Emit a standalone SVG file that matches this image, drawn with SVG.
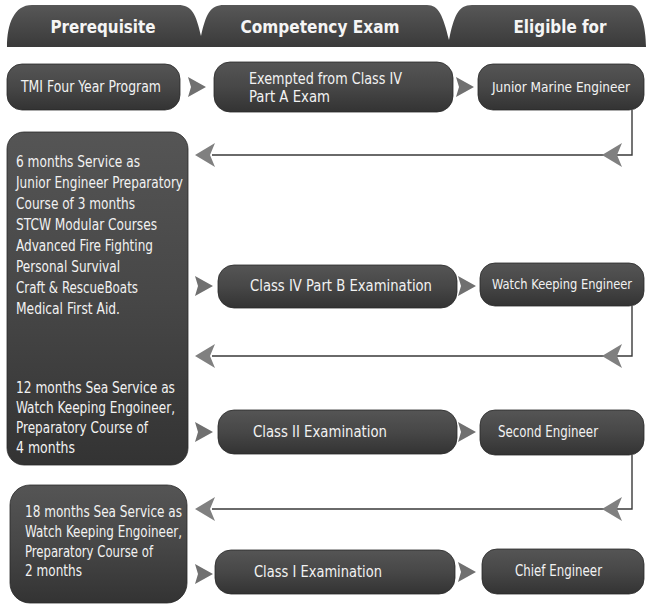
<svg xmlns="http://www.w3.org/2000/svg" width="646" height="614" viewBox="0 0 646 614">
<style>
.box{fill:url(#g);stroke:#2a2a2a;stroke-width:0.8}
.hd{fill:url(#gh)}
.t{font-family:'DejaVu Sans Condensed','DejaVu Sans',sans-serif;font-stretch:condensed;font-size:15px;fill:#f2f2f2}
.s{font-size:13.5px}
.h{font-family:'DejaVu Sans Condensed','DejaVu Sans',sans-serif;font-stretch:condensed;font-weight:bold;font-size:18px;fill:#f5f5f5}
.c{fill:none;stroke:#3a3a3a;stroke-width:1.4}
.ah{fill:#808080}
.sa{fill:#707070}
</style>
<defs>
<linearGradient id="g" x1="0" y1="0" x2="0" y2="1">
<stop offset="0" stop-color="#555"/>
<stop offset="0.5" stop-color="#474747"/>
<stop offset="1" stop-color="#333"/>
</linearGradient>
<linearGradient id="gh" x1="0" y1="0" x2="0" y2="1">
<stop offset="0" stop-color="#575757"/>
<stop offset="1" stop-color="#3a3a3a"/>
</linearGradient>
<path id="la" d="M0,0 L20,-12 L15,0 L20,12 Z"/>
<path id="ra" d="M0,-10 L18,0 L0,10 L3,0 Z"/>
</defs>

<g id="header">
<path class="hd" d="M7,47 C7,24 14,5 32,5 L178,5 C192,5 196,14 201,36 C206,14 210,5 224,5 L427,5 C439,5 443,16 449,40 C454,16 458,5 472,5 L630,5 C641,5 646,28 646,47 Z"/>
<text class="h" x="103" y="33" text-anchor="middle" textLength="105" lengthAdjust="spacingAndGlyphs">Prerequisite</text>
<text class="h" x="320" y="33" text-anchor="middle" textLength="159" lengthAdjust="spacingAndGlyphs">Competency Exam</text>
<text class="h" x="560" y="33" text-anchor="middle" textLength="93" lengthAdjust="spacingAndGlyphs">Eligible for</text>
</g>

<g id="connectors">
<path class="c" d="M632,110 V155 H212"/>
<path class="c" d="M632,306 V356 H212"/>
<path class="c" d="M632,455 V509 H212"/>
<use href="#la" class="ah" x="195" y="155"/>
<use href="#la" class="ah" x="602" y="155"/>
<use href="#la" class="ah" x="195" y="356"/>
<use href="#la" class="ah" x="602" y="356"/>
<use href="#la" class="ah" x="195" y="509"/>
<use href="#la" class="ah" x="602" y="509"/>
<use href="#ra" class="sa" x="188" y="87"/>
<use href="#ra" class="sa" x="456" y="87"/>
<use href="#ra" class="sa" x="195" y="286"/>
<use href="#ra" class="sa" x="458" y="286"/>
<use href="#ra" class="sa" x="195" y="432"/>
<use href="#ra" class="sa" x="458" y="432"/>
<use href="#ra" class="sa" x="195" y="574"/>
<use href="#ra" class="sa" x="458" y="572"/>
</g>

<g id="tmi">
<rect class="box" x="7" y="64" width="173" height="46" rx="15"/>
<text class="t" x="21" y="92" textLength="140" lengthAdjust="spacingAndGlyphs">TMI Four Year Program</text>
</g>
<g id="exempted">
<rect class="box" x="214" y="62" width="239" height="50" rx="16"/>
<text class="t" x="249" y="84" textLength="153" lengthAdjust="spacingAndGlyphs">Exempted from Class IV</text>
<text class="t" x="249" y="102" textLength="81" lengthAdjust="spacingAndGlyphs">Part A Exam</text>
</g>
<g id="junior">
<rect class="box" x="478" y="64" width="166" height="46" rx="15"/>
<text class="t s" x="492" y="92" textLength="138" lengthAdjust="spacingAndGlyphs">Junior Marine Engineer</text>
</g>

<g id="prereq2">
<rect class="box" x="7" y="132" width="181" height="333" rx="17"/>
<text class="t" x="16" y="167" textLength="124" lengthAdjust="spacingAndGlyphs">6 months Service as</text>
<text class="t" x="16" y="188" textLength="167" lengthAdjust="spacingAndGlyphs">Junior Engineer Preparatory</text>
<text class="t" x="16" y="209" textLength="119" lengthAdjust="spacingAndGlyphs">Course of 3 months</text>
<text class="t" x="16" y="230" textLength="141" lengthAdjust="spacingAndGlyphs">STCW Modular Courses</text>
<text class="t" x="16" y="251" textLength="137" lengthAdjust="spacingAndGlyphs">Advanced Fire Fighting</text>
<text class="t" x="16" y="272" textLength="104" lengthAdjust="spacingAndGlyphs">Personal Survival</text>
<text class="t" x="16" y="293" textLength="122" lengthAdjust="spacingAndGlyphs">Craft &amp; RescueBoats</text>
<text class="t" x="16" y="314" textLength="104" lengthAdjust="spacingAndGlyphs">Medical First Aid.</text>
<text class="t" x="16" y="393" textLength="159" lengthAdjust="spacingAndGlyphs">12 months Sea Service as</text>
<text class="t" x="16" y="413" textLength="159" lengthAdjust="spacingAndGlyphs">Watch Keeping Engoineer,</text>
<text class="t" x="16" y="433" textLength="132" lengthAdjust="spacingAndGlyphs">Preparatory Course of</text>
<text class="t" x="16" y="453" textLength="59" lengthAdjust="spacingAndGlyphs">4 months</text>
</g>
<g id="classIVB">
<rect class="box" x="218" y="265" width="239" height="43" rx="16"/>
<text class="t" x="341" y="291" text-anchor="middle" textLength="182" lengthAdjust="spacingAndGlyphs">Class IV Part B Examination</text>
</g>
<g id="watch">
<rect class="box" x="480" y="263" width="164" height="43" rx="15"/>
<text class="t s" x="562" y="289" text-anchor="middle" textLength="140" lengthAdjust="spacingAndGlyphs">Watch Keeping Engineer</text>
</g>
<g id="classII">
<rect class="box" x="218" y="410" width="239" height="44" rx="16"/>
<text class="t" x="253" y="437" textLength="134" lengthAdjust="spacingAndGlyphs">Class II Examination</text>
</g>
<g id="second">
<rect class="box" x="480" y="410" width="164" height="45" rx="15"/>
<text class="t" x="498" y="437" textLength="100" lengthAdjust="spacingAndGlyphs">Second Engineer</text>
</g>

<g id="prereq3">
<rect class="box" x="10" y="485" width="177" height="118" rx="20"/>
<text class="t" x="25" y="517" textLength="157" lengthAdjust="spacingAndGlyphs">18 months Sea Service as</text>
<text class="t" x="25" y="537" textLength="157" lengthAdjust="spacingAndGlyphs">Watch Keeping Engoineer,</text>
<text class="t" x="25" y="557" textLength="128" lengthAdjust="spacingAndGlyphs">Preparatory Course of</text>
<text class="t" x="25" y="576" textLength="57" lengthAdjust="spacingAndGlyphs">2 months</text>
</g>
<g id="classI">
<rect class="box" x="215" y="550" width="240" height="44" rx="16"/>
<text class="t" x="254" y="577" textLength="128" lengthAdjust="spacingAndGlyphs">Class I Examination</text>
</g>
<g id="chief">
<rect class="box" x="482" y="549" width="162" height="45" rx="15"/>
<text class="t" x="515" y="576" textLength="87" lengthAdjust="spacingAndGlyphs">Chief Engineer</text>
</g>
</svg>
